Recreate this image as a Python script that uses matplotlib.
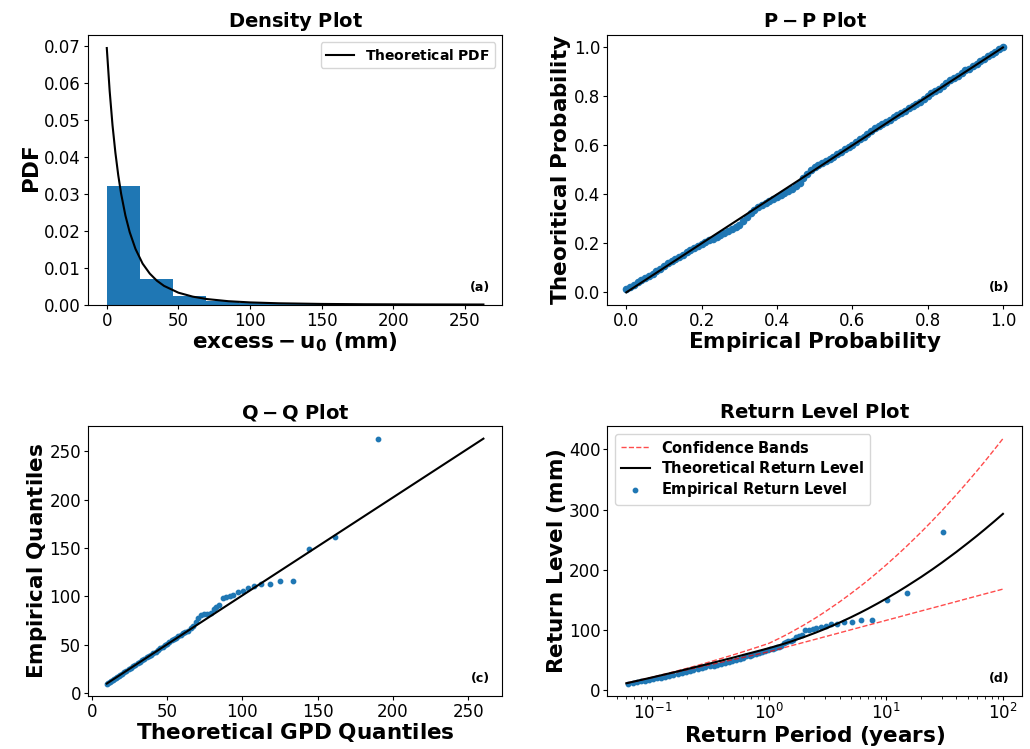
import numpy as np
import matplotlib.pyplot as plt

# (a) density plot: histogram of excesses + fitted GPD pdf
bin_left = [0, 23, 46, 69, 92, 115, 138, 161, 184, 207, 230]
bin_density = [0.0321, 0.0070, 0.0022, 0.0009, 0.0005, 0.00009, 0.00009, 0.0, 0.0, 0.0, 0.00009]
bin_width = 23
pdf_x = [0, 2, 4, 6, 8, 10, 13, 16, 20, 25, 30, 35, 40, 50, 60, 70, 85, 100, 120, 150, 180, 220, 263]
pdf_y = [0.0694, 0.0578, 0.0485, 0.0411, 0.0350, 0.0300, 0.0241, 0.0196, 0.0151, 0.0111, 0.0084,
         0.00646, 0.00506, 0.00323, 0.00216, 0.00150, 0.00092, 0.00060, 0.00036, 0.000186,
         0.000106, 0.000056, 0.000031]

# (b) P-P plot
pp_emp = [0.00, 0.01, 0.02, 0.03, 0.04, 0.05, 0.06, 0.07, 0.08, 0.09, 0.10, 0.11, 0.12, 0.13, 0.14,
          0.15, 0.16, 0.17, 0.18, 0.19, 0.20, 0.21, 0.22, 0.23, 0.24, 0.25, 0.26, 0.27, 0.28, 0.29,
          0.30, 0.31, 0.32, 0.33, 0.34, 0.35, 0.36, 0.37, 0.38, 0.39, 0.40, 0.41, 0.42, 0.43, 0.44,
          0.45, 0.46, 0.47, 0.48, 0.49, 0.50, 0.51, 0.52, 0.53, 0.54, 0.55, 0.56, 0.57, 0.58, 0.59,
          0.60, 0.61, 0.62, 0.63, 0.64, 0.65, 0.66, 0.67, 0.68, 0.69, 0.70, 0.71, 0.72, 0.73, 0.74,
          0.75, 0.76, 0.77, 0.78, 0.79, 0.80, 0.81, 0.82, 0.83, 0.84, 0.85, 0.86, 0.87, 0.88, 0.89,
          0.90, 0.91, 0.92, 0.93, 0.94, 0.95, 0.96, 0.97, 0.98, 0.99, 1.00]
pp_theo = [0.012, 0.020, 0.032, 0.042, 0.050, 0.058, 0.068, 0.076, 0.086, 0.095, 0.106, 0.118, 0.128,
           0.136, 0.146, 0.154, 0.164, 0.174, 0.182, 0.190, 0.198, 0.204, 0.212, 0.218, 0.226, 0.236,
           0.244, 0.252, 0.260, 0.268, 0.276, 0.290, 0.308, 0.324, 0.338, 0.350, 0.358, 0.366, 0.372,
           0.380, 0.388, 0.396, 0.404, 0.412, 0.422, 0.434, 0.448, 0.466, 0.484, 0.498, 0.510, 0.522,
           0.530, 0.536, 0.544, 0.554, 0.564, 0.574, 0.584, 0.592, 0.602, 0.614, 0.626, 0.636, 0.648,
           0.660, 0.670, 0.678, 0.686, 0.694, 0.702, 0.714, 0.724, 0.732, 0.740, 0.752, 0.760, 0.768,
           0.776, 0.788, 0.802, 0.814, 0.824, 0.832, 0.844, 0.854, 0.866, 0.876, 0.884, 0.896, 0.906,
           0.914, 0.924, 0.932, 0.944, 0.954, 0.964, 0.972, 0.982, 0.992, 1.000]

# (c) Q-Q plot
qq_theo = [10.2, 11, 12, 13, 14, 15, 16, 17, 18, 19, 20, 21.5, 23, 24.5, 26, 27.5, 29, 30.5, 32, 33.5,
           35, 36.5, 38, 39.5, 41, 42.5, 44, 45.5, 47, 48.5, 50, 51.5, 53, 54.5, 56, 57.5, 59, 60.5,
           62, 63.9, 65.7, 67.4, 69.0, 70.5, 72.3, 74.5, 76.7, 78.9, 81.1, 82.6, 84.4, 87.0, 89.4,
           91.7, 93.8, 96.9, 100.2, 103.7, 107.9, 112.3, 118.1, 124.7, 133.5, 144.5, 161.5, 190.1]
qq_emp = [10.0, 10.8, 11.8, 12.9, 13.9, 15.0, 16.0, 17.0, 18.0, 19.1, 20.2, 21.8, 23.4, 24.9, 26.4,
          28.0, 29.5, 31.0, 32.5, 34.0, 35.5, 37.0, 38.5, 40.0, 41.5, 43.0, 44.8, 46.5, 48.0, 49.6,
          51.3, 53.0, 54.5, 56.0, 57.5, 59.0, 60.3, 61.8, 63.0, 64.5, 67.3, 69.6, 74.1, 78.2, 80.9,
          81.6, 82.3, 83.3, 87.4, 89.5, 90.9, 98.8, 99.8, 100.8, 101.5, 104.9, 106.0, 108.7, 110.4,
          112.5, 113.2, 115.5, 115.5, 149.5, 161.2, 262.7]
qq_line_x = [10, 260]
qq_line_y = [10, 263]

# (d) return level plot
rl_T = [0.06, 0.08, 0.1, 0.13, 0.16, 0.2, 0.25, 0.3, 0.4, 0.5, 0.6, 0.7, 0.85, 1, 1.25, 1.5, 2, 2.5,
        3, 4, 5, 6, 7, 8.5, 10, 12.5, 15, 20, 25, 30, 40, 50, 60, 70, 85, 100]
rl_theo = [11.5, 17.0, 21.3, 26.5, 30.6, 35.2, 39.8, 43.6, 49.7, 54.5, 58.6, 62.0, 66.3, 70.0, 75.4,
           80.2, 88.5, 95.6, 101.8, 112.3, 121.1, 128.7, 135.4, 144.3, 152.0, 163.1, 172.6, 188.2,
           201.0, 211.9, 229.8, 244.4, 256.6, 267.3, 281.1, 293.0]
rl_upper = [11.7, 17.1, 21.6, 27.1, 31.6, 36.6, 41.8, 46.2, 53.4, 59.1, 63.9, 68.1, 73.4, 78.0, 87.1,
            95.1, 108.7, 120.1, 130.1, 146.7, 160.5, 172.3, 182.6, 196.2, 208.0, 224.9, 239.2, 262.8,
            282.0, 298.2, 324.9, 346.4, 364.5, 380.2, 400.6, 418.0]
rl_lower = [11.4, 16.9, 21.1, 26.0, 29.9, 34.1, 38.2, 41.6, 47.0, 51.1, 54.5, 57.4, 61.0, 64.0, 69.0,
            73.2, 79.7, 84.7, 88.8, 95.3, 100.4, 104.5, 108.0, 112.3, 116.0, 121.0, 125.2, 131.7,
            136.7, 140.8, 147.3, 152.4, 156.5, 160.0, 164.3, 168.0]
emp_T = [30.5, 15.25, 10.17, 7.63, 6.1, 5.08, 4.36, 3.81, 3.39, 3.05, 2.77, 2.54, 2.35, 2.18, 2.03,
         1.91, 1.79, 1.69, 1.61, 1.525, 1.45, 1.39, 1.33, 1.27, 1.22, 1.17, 1.13, 1.08, 1.02, 0.97,
         0.92, 0.87, 0.82, 0.77, 0.72, 0.68, 0.64, 0.6, 0.56, 0.52, 0.48, 0.45, 0.42, 0.39, 0.36,
         0.335, 0.31, 0.285, 0.265, 0.245, 0.225, 0.21, 0.195, 0.18, 0.165, 0.152, 0.14, 0.129,
         0.119, 0.11, 0.101, 0.094, 0.087, 0.08, 0.074, 0.068, 0.062]
emp_L = [263, 162, 149.5, 116, 116, 114, 113, 110.7, 109.5, 107.4, 105.7, 103, 101.8, 100.7, 99.6,
         91.8, 89.6, 88, 83.5, 82.3, 81.6, 80.9, 78.2, 74.1, 72.5, 71, 70, 69, 68, 66.5,
         65, 63.5, 62, 60.5, 59, 57.5, 56, 54, 52, 50.5, 49, 47.5, 46, 44, 42.5, 41, 39.5, 38,
         36.5, 35, 33, 31.5, 30, 28.5, 27, 25.5, 24, 22.5, 21, 19.5, 18, 17, 15.5, 14.5, 13, 12, 11]

blue = '#1f77b4'
plt.rcParams['xtick.labelsize'] = 12
plt.rcParams['ytick.labelsize'] = 12
plt.rcParams['xtick.major.pad'] = 2
plt.rcParams['ytick.major.pad'] = 2
plt.rcParams['xtick.major.size'] = 3
plt.rcParams['ytick.major.size'] = 3
plt.rcParams['axes.labelpad'] = 0.5

fig, axs = plt.subplots(2, 2, figsize=(10.3, 7.49), dpi=100)
plt.subplots_adjust(left=0.0854, right=0.992, top=0.953, bottom=0.071, wspace=0.254, hspace=0.452)

tfs = 14
lfs = 15.5

ax = axs[0, 0]
ax.bar(bin_left, bin_density, width=bin_width, align='edge', color=blue)
ax.plot(pdf_x, pdf_y, color='black', label=r'$\bf{Theoretical\ PDF}$')
ax.set_title(r'$\bf{Density\ Plot}$', fontsize=tfs)
ax.set_xlabel(r'$\bf{excess - u_0\ (mm)}$', fontsize=lfs)
ax.set_ylabel(r'$\bf{PDF}$', fontsize=lfs)
ax.legend(loc='upper right', fontsize=10)
ax.text(0.97, 0.05, '(a)', transform=ax.transAxes, ha='right', fontsize=9, fontweight='bold')

ax = axs[0, 1]
ax.scatter(pp_emp, pp_theo, s=20, color=blue)
ax.plot([0, 1], [0, 1], color='black')
ax.set_title(r'$\bf{P-P\ Plot}$', fontsize=tfs)
ax.set_xlabel(r'$\bf{Empirical\ Probability}$', fontsize=lfs)
ax.set_ylabel(r'$\bf{Theoritical\ Probability}$', fontsize=lfs)
ax.text(0.97, 0.05, '(b)', transform=ax.transAxes, ha='right', fontsize=9, fontweight='bold')

ax = axs[1, 0]
ax.scatter(qq_theo, qq_emp, s=10, color=blue)
ax.plot(qq_line_x, qq_line_y, color='black')
ax.set_title(r'$\bf{Q-Q\ Plot}$', fontsize=tfs)
ax.set_xlabel(r'$\bf{Theoretical\ GPD\ Quantiles}$', fontsize=lfs)
ax.set_ylabel(r'$\bf{Empirical\ Quantiles}$', fontsize=lfs)
ax.text(0.97, 0.05, '(c)', transform=ax.transAxes, ha='right', fontsize=9, fontweight='bold')

ax = axs[1, 1]
ax.plot(rl_T, rl_upper, '--', color='red', alpha=0.7, lw=1, label=r'$\bf{Confidence\ Bands}$')
ax.plot(rl_T, rl_lower, '--', color='red', alpha=0.7, lw=1)
ax.plot(rl_T, rl_theo, color='black', label=r'$\bf{Theoretical\ Return\ Level}$')
ax.scatter(emp_T, emp_L, s=10, color=blue, label=r'$\bf{Empirical\ Return\ Level}$')
ax.set_xscale('log')
ax.set_title(r'$\bf{Return\ Level\ Plot}$', fontsize=tfs)
ax.set_xlabel(r'$\bf{Return\ Period\ (years)}$', fontsize=lfs)
ax.set_ylabel(r'$\bf{Return\ Level\ (mm)}$', fontsize=lfs)
ax.legend(loc='upper left', fontsize=10.5, labelspacing=0.3)
ax.text(0.97, 0.05, '(d)', transform=ax.transAxes, ha='right', fontsize=9, fontweight='bold')

plt.savefig('out.png', dpi=100)
